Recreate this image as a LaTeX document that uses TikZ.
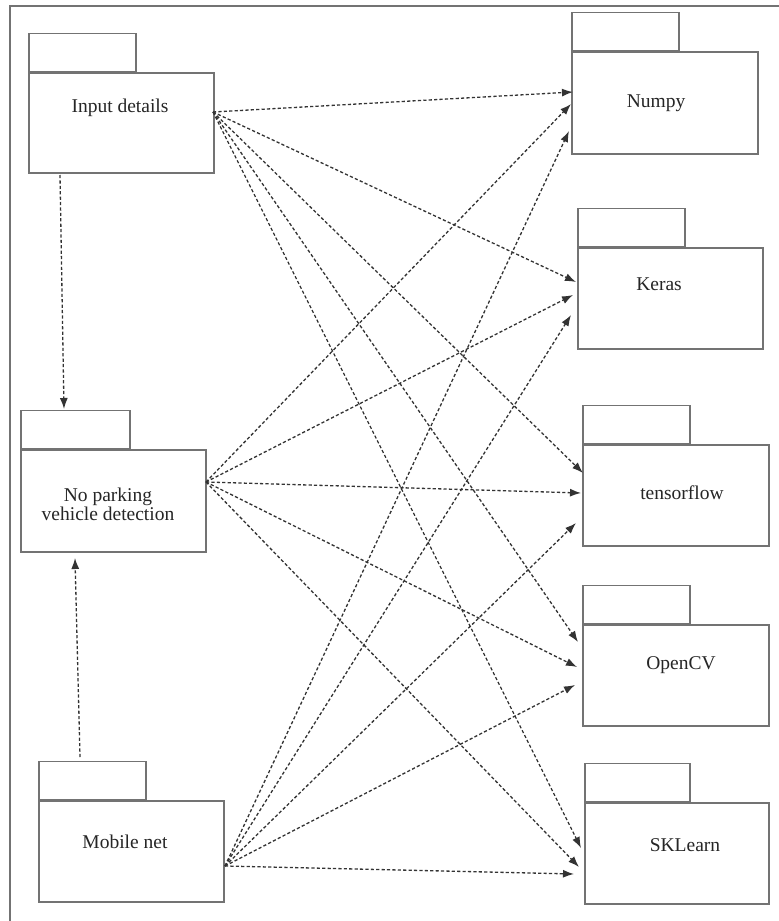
\documentclass[tikz,border=0pt]{standalone}
\usepackage{fontspec}
\setmainfont{Liberation Serif}
\usetikzlibrary{arrows.meta}
\begin{document}
\begin{tikzpicture}[x=1pt,y=-1pt,
  boxline/.style={draw=black!55,line width=1.5pt},
  pkgbody/.style={boxline,fill=white,anchor=north west,inner sep=0pt},
  pkgtab/.style={boxline,fill=white,anchor=south west,inner sep=0pt},
  lbl/.style={text=black!85,font=\fontsize{19.5}{22}\selectfont,align=center,inner sep=0pt},
  dep/.style={draw=black!80,line width=1.3pt,dash pattern=on 3.2pt off 2.2pt,
    -{Latex[length=11pt,width=8pt]}}]
% canvas and outer frame
\useasboundingbox (0,0) rectangle (779,921);
\fill[white] (0,0) rectangle (779,921);
\draw[black!55,line width=1.5pt] (10,921) -- (10,6) -- (779,6);

% package helper: tab + body
\newcommand{\pkg}[6]{% name, x, y(top of body), width, height, tab width
  \node[pkgtab,minimum width=#6pt,minimum height=38pt] (#1tab) at (#2,#3) {};
  \node[pkgbody,minimum width=#4pt,minimum height=#5pt] (#1) at (#2,#3) {};
}

\pkg{inp}{28}{72}{185}{100}{107}
\pkg{npv}{20}{449}{185}{102}{109}
\pkg{mob}{38}{800}{185}{101}{107}
\pkg{nump}{571}{51}{186}{102}{107}
\pkg{ker}{577}{247}{185}{101}{107}
\pkg{tf}{582}{444}{186}{101}{107}
\pkg{ocv}{582}{624}{186}{101}{107}
\pkg{skl}{584}{802}{184}{101}{105}

% labels
\node[lbl] (inpL) at (120,108) {Input details};
\node[lbl] (npvL) at (108,504) {No parking\\[-3pt]vehicle detection};
\node[lbl] (mobL) at (125,842) {Mobile net};
\node[lbl] (numpL) at (656,103) {Numpy};
\node[lbl] (kerL) at (659,284) {Keras};
\node[lbl] (tfL) at (682,493) {tensorflow};
\node[lbl] (ocvL) at (681,665) {OpenCV};
\node[lbl] (sklL) at (685,845) {SKLearn};

% connection points
\coordinate (inpO) at (213,112);
\coordinate (npvO) at (206,482);
\coordinate (mobO) at (225,866);
\coordinate (inpD) at (60,175);
\coordinate (npvT) at (64,409);
\coordinate (mobU) at (80,757);
\coordinate (npvB) at (75,558);

\coordinate (nump1) at (573,92);
\coordinate (nump2) at (571,104);
\coordinate (nump3) at (569,131);
\coordinate (ker1) at (576,282);
\coordinate (ker2) at (573,295);
\coordinate (ker3) at (571,315);
\coordinate (tf1) at (583,473);
\coordinate (tf2) at (581,493);
\coordinate (tf3) at (576,523);
\coordinate (ocv1) at (578,642);
\coordinate (ocv2) at (577,667);
\coordinate (ocv3) at (575,685);
\coordinate (skl1) at (581,848);
\coordinate (skl2) at (579,867);
\coordinate (skl3) at (574,874);

% dependencies
\draw[dep] (inpD) -- (npvT);
\draw[dep] (mobU) -- (npvB);

\foreach \t in {nump1,ker1,tf1,ocv1,skl1} \draw[dep] (inpO) -- (\t);
\foreach \t in {nump2,ker2,tf2,ocv2,skl2} \draw[dep] (npvO) -- (\t);
\foreach \t in {nump3,ker3,tf3,ocv3,skl3} \draw[dep] (mobO) -- (\t);
\end{tikzpicture}
\end{document}
